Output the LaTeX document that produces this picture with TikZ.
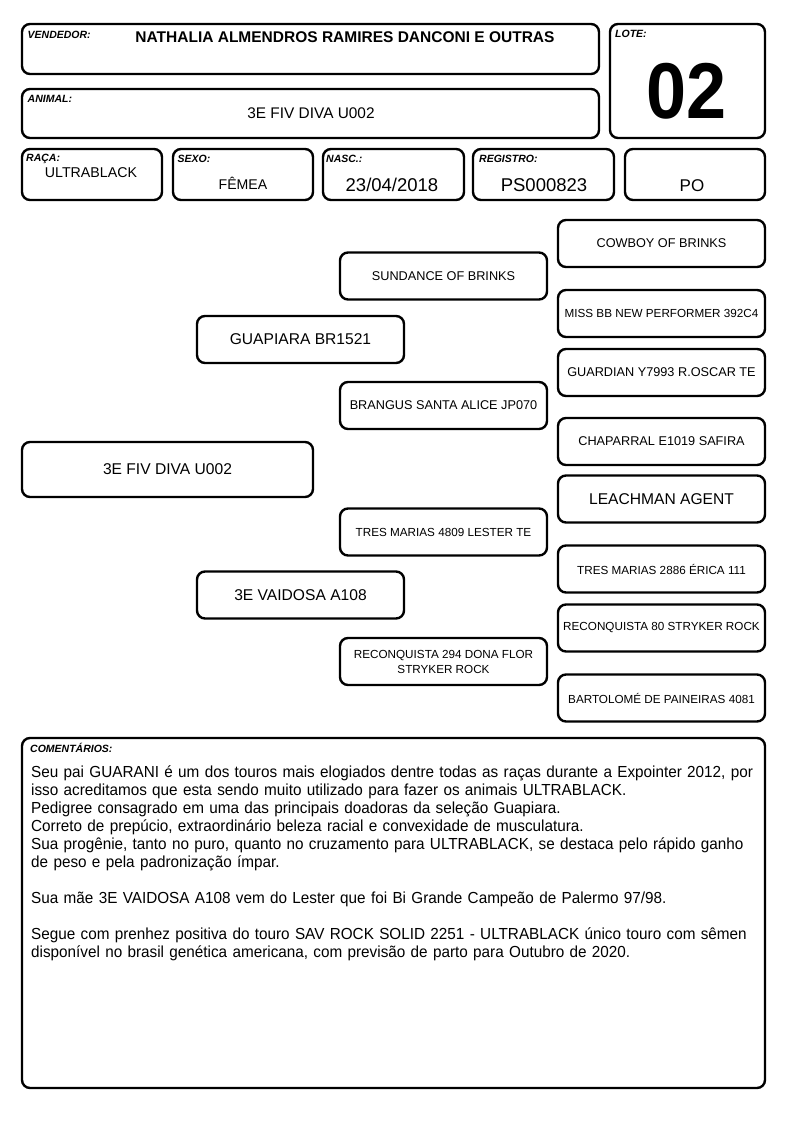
\documentclass[tikz,border=0pt]{standalone}
\usepackage{fontspec}
\setmainfont{Liberation Sans}
\newfontfamily\comfont[FakeStretch=0.955]{Liberation Sans}
\begin{document}
\begin{tikzpicture}[x=1pt,y=-1pt,
  box/.style={draw=black, line width=2.4pt, rounded corners=8pt, inner sep=0pt, fill=white},
  pbox/.style={box, minimum width=207pt, minimum height=47pt, align=center, font=\fontsize{12.7}{15}\selectfont},
  sm/.style={font=\fontsize{11.7}{15}\selectfont},
  bigp/.style={font=\fontsize{15.6}{18}\selectfont},
  lbl/.style={anchor=base west, inner sep=0pt, font=\fontsize{10.5}{12}\selectfont\bfseries\itshape},
  val/.style={anchor=base, inner sep=0pt}
]
\useasboundingbox (0,0) rectangle (794,1123);
\fill[white] (0,0) rectangle (794,1123);

% header boxes
\node[box, minimum width=577pt, minimum height=50pt] (vend) at (310.5,49) {};
\node[box, minimum width=155pt, minimum height=114pt] (lote) at (687.5,81) {};
\node[box, minimum width=577pt, minimum height=49pt] (animal) at (310.5,113.5) {};
\node[box, minimum width=140pt, minimum height=51pt] (raca) at (92,174.5) {};
\node[box, minimum width=140pt, minimum height=51pt] (sexo) at (243,174.5) {};
\node[box, minimum width=141pt, minimum height=51pt] (nasc) at (393.5,174.5) {};
\node[box, minimum width=141pt, minimum height=51pt] (reg) at (543.5,174.5) {};
\node[box, minimum width=140pt, minimum height=51pt] (po) at (695,174.5) {};

% labels
\node[lbl] (vendl) at (27.5,39) {VENDEDOR:};
\node[lbl] (animl) at (27.5,103) {ANIMAL:};
\node[lbl] (racal) at (26,162) {RAÇA:};
\node[lbl] (sexol) at (177.5,163) {SEXO:};
\node[lbl] (nascl) at (326,163) {NASC.:};
\node[lbl] (regl) at (479,163) {REGISTRO:};
\node[lbl] (lotel) at (615,38) {LOTE:};

% values
\node[val, font=\fontsize{15.5}{18}\selectfont\bfseries] (vendv) at (345,43) {NATHALIA ALMENDROS RAMIRES DANCONI E OUTRAS};
\node[val, font=\fontsize{15.4}{18}\selectfont] (animv) at (311,119) {3E FIV DIVA U002};
\node[val, font=\fontsize{14.2}{17}\selectfont] (racav) at (91,178) {ULTRABLACK};
\node[val, font=\fontsize{14.1}{17}\selectfont] (sexov) at (243,189.5) {FÊMEA};
\node[val, font=\fontsize{18.5}{21}\selectfont] (nascv) at (392,192) {23/04/2018};
\node[val, font=\fontsize{18.5}{21}\selectfont] (regv) at (544,192) {PS000823};
\node[val, font=\fontsize{17}{20}\selectfont] (pov) at (692,192) {PO};
\node[val, font=\fontsize{72}{80}\selectfont\bfseries] (lotev) at (687,118.5) {\scalebox{1}[1.1]{02}};

% pedigree
\node[pbox] (cowboy) at (661.5,243.5) {COWBOY OF BRINKS};
\node[pbox] (sundance) at (443.5,276) {SUNDANCE OF BRINKS};
\node[pbox, sm] (missbb) at (661.5,313.5) {MISS BB NEW PERFORMER 392C4};
\node[pbox, bigp] (guapiara) at (300.5,339.5) {GUAPIARA BR1521};
\node[pbox] (guardian) at (661.5,372.5) {GUARDIAN Y7993 R.OSCAR TE};
\node[pbox] (brangus) at (443.5,405.5) {BRANGUS SANTA ALICE JP070};
\node[pbox] (chaparral) at (661.5,441.5) {CHAPARRAL E1019 SAFIRA};
\node[pbox, bigp, minimum width=291pt, minimum height=55pt] (diva) at (167.5,469.5) {3E FIV DIVA U002};
\node[pbox, bigp] (leachman) at (661.5,499) {LEACHMAN AGENT};
\node[pbox, sm] (tres4809) at (443.5,532) {TRES MARIAS 4809 LESTER TE};
\node[pbox, sm] (tres2886) at (661.5,569) {TRES MARIAS 2886 ÉRICA 111};
\node[pbox, bigp] (vaidosa) at (300.5,595) {3E VAIDOSA A108};
\node[pbox, sm] (recon80) at (661.5,628) {RECONQUISTA 80 STRYKER ROCK};
\node[pbox, sm] (recon294) at (443.5,661.5) {RECONQUISTA 294 DONA FLOR\\STRYKER ROCK};
\node[pbox, sm] (bartolome) at (661.5,698) {BARTOLOMÉ DE PAINEIRAS 4081};

% comments
\node[box, minimum width=743pt, minimum height=350pt] (coment) at (393.5,913) {};
\node[lbl] (comentl) at (30,752) {COMENTÁRIOS:};
\node[anchor=base west, inner sep=0pt, text width=760pt, align=left, font=\comfont\fontsize{16}{18}\selectfont] (comentt) at (31,777) {%
Seu pai GUARANI é um dos touros mais elogiados dentre todas as raças durante a Expointer 2012, por\\
isso acreditamos que esta sendo muito utilizado para fazer os animais ULTRABLACK.\\
Pedigree consagrado em uma das principais doadoras da seleção Guapiara.\\
Correto de prepúcio, extraordinário beleza racial e convexidade de musculatura.\\
Sua progênie, tanto no puro, quanto no cruzamento para ULTRABLACK, se destaca pelo rápido ganho\\
de peso e pela padronização ímpar.\\[18pt]
Sua mãe 3E VAIDOSA A108 vem do Lester que foi Bi Grande Campeão de Palermo 97/98.\\[18pt]
Segue com prenhez positiva do touro SAV ROCK SOLID 2251 - ULTRABLACK único touro com sêmen\\
disponível no brasil genética americana, com previsão de parto para Outubro de 2020.};
\end{tikzpicture}
\end{document}
